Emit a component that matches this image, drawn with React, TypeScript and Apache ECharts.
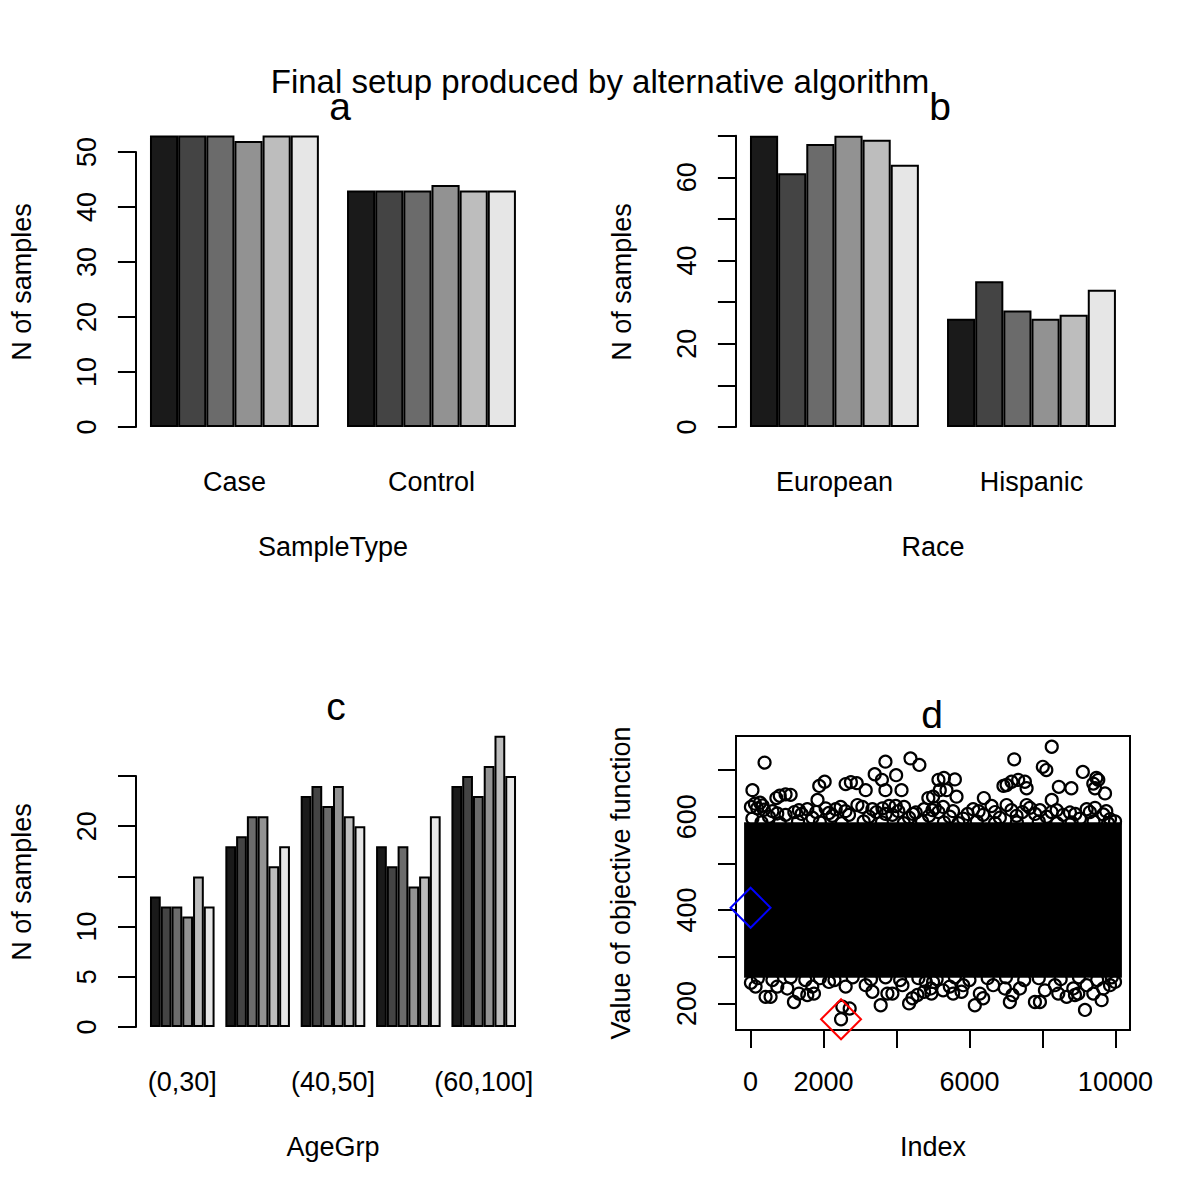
import React, { useEffect, useRef } from "react";
import * as echarts from "echarts";

const FONT = '"Liberation Sans", Arial, Helvetica, sans-serif';

// ---------- data ----------
const barColors = ["#1a1a1a", "#444444", "#6b6b6b", "#929292", "#bdbdbd", "#e6e6e6"];

// panel a
const sampleTypeCategories = ["Case", "Control"];
const sampleTypeCounts = [
  [53, 43],
  [53, 43],
  [53, 43],
  [52, 44],
  [53, 43],
  [53, 43],
];
const sampleTypeTickMax = 50;
const sampleTypeTickStep = 10;
const sampleTypeTickLabels = [0, 10, 20, 30, 40, 50];

// panel b
const raceCategories = ["European", "Hispanic"];
const raceCounts = [
  [70, 26],
  [61, 35],
  [68, 28],
  [70, 26],
  [69, 27],
  [63, 33],
];
const raceTickMax = 70;
const raceTickStep = 10;
const raceTickLabels = [0, 20, 40, 60];

// panel c
const ageCategories = ["(0,30]", "(30,40]", "(40,50]", "(50,60]", "(60,100]"];
const ageCounts = [
  [13, 18, 23, 18, 24],
  [12, 19, 24, 16, 25],
  [12, 21, 22, 18, 23],
  [11, 21, 24, 14, 26],
  [15, 16, 21, 15, 29],
  [12, 18, 20, 21, 25],
];
const ageTickMax = 25;
const ageTickStep = 5;
const ageTickLabels = [0, 5, 10, 20];

// panel d
const indexTickMin = 0;
const indexTickMax = 10000;
const indexTickStep = 2000;
const indexTickLabels = [0, 2000, 6000, 10000];
const objTickMin = 200;
const objTickMax = 700;
const objTickStep = 100;
const objTickLabels = [200, 400, 600];
const indexUsr = [-398.96, 10399.96];
const objUsr = [143, 773];

// dense core of the 10000 evaluations (centres of circles)
const coreIndexRange = [1, 10000];
const coreValueRange = [269, 574];

// visible individual evaluations above the dense core [index, value]
const upperPoints = [
  [384, 716], [52, 657], [708, 640], [800, 645], [960, 648], [1098, 647], [1835, 636],
  [1883, 666], [2031, 675], [2606, 670], [2750, 674], [2910, 672], [3156, 657], [3403, 691],
  [3697, 718], [3600, 679], [3697, 657], [3990, 689], [4138, 657], [4383, 725], [4627, 711],
  [4873, 640], [5150, 679], [5300, 683], [5600, 680], [5370, 657], [5187, 657], [5003, 643],
  [5645, 643], [6394, 640], [6932, 666], [7017, 668], [7154, 675], [7336, 679], [7519, 675],
  [7566, 661], [7226, 723], [8010, 707], [8107, 700], [8255, 750], [8255, 636], [8450, 664],
  [8793, 661], [9107, 696], [9394, 671], [9531, 679], [9440, 661], [9715, 650], [9478, 683],
  [10, 621], [183, 618], [366, 615], [732, 607], [1326, 614], [1555, 616], [2058, 618],
  [2333, 616], [2470, 621], [2928, 625], [3065, 621], [3340, 616], [3614, 618], [3796, 623],
  [3979, 623], [4208, 621], [4528, 609], [4756, 616], [4986, 614], [5049, 619], [5278, 621],
  [6101, 616], [6605, 623], [7017, 625], [7566, 625], [7656, 619], [7931, 614], [8389, 614],
  [8754, 609], [9212, 616], [9440, 619], [9669, 605], [9852, 595],
  [50, 596], [503, 600], [960, 604], [1693, 598], [2242, 602], [2699, 604], [3248, 600],
  [3888, 604], [4345, 598], [4893, 602], [5461, 600], [5827, 596], [6375, 604], [6833, 598],
  [7291, 602], [8115, 600], [8571, 604], [9029, 596], [9990, 590],
  [120, 628], [260, 630], [330, 624], [600, 612], [1200, 610], [1400, 606], [1800, 610],
  [2150, 608], [2600, 612], [3450, 610], [3700, 606], [4050, 612], [4450, 606], [5150, 610],
  [5550, 612], [5950, 606], [6250, 612], [6700, 610], [7150, 614], [7450, 610], [7800, 606],
  [8250, 610], [8900, 606], [9300, 610], [9750, 612],
  [300, 588], [800, 586], [1300, 590], [1900, 588], [2500, 586], [3100, 590], [3600, 588],
  [4200, 586], [4700, 590], [5300, 588], [5700, 586], [6200, 590], [6700, 586], [7300, 588],
  [7900, 590], [8400, 586], [8800, 588], [9400, 590], [9800, 586],
];

// visible individual evaluations below the dense core [index, value]
const lowerPoints = [
  [2480, 166], [412, 214], [549, 214], [1189, 203], [1327, 221], [1555, 218], [1738, 221],
  [2516, 193], [2717, 189], [3340, 225], [3751, 221], [3888, 221], [3567, 196], [4345, 200],
  [4437, 211], [4574, 218], [4756, 225], [4940, 232], [4958, 221], [5278, 228], [5553, 221],
  [5782, 225], [6147, 196], [6375, 211], [6284, 221], [7107, 203], [7180, 218], [7794, 203],
  [7931, 203], [8434, 221], [8663, 214], [8891, 218], [8983, 221], [9166, 186], [9394, 221],
  [9623, 207], [9852, 239], [9989, 246],
  [137, 236], [10, 244], [732, 236], [1007, 232], [1692, 236], [2149, 246], [2607, 236],
  [3156, 239], [4163, 239], [4802, 246], [5003, 246], [5461, 236], [5827, 239], [6650, 239],
  [6970, 232], [7382, 232], [8068, 228], [8342, 239], [8846, 232], [9212, 239], [9669, 232],
  [200, 254], [600, 250], [1100, 256], [1500, 250], [1900, 254], [2300, 250], [2800, 256],
  [3300, 252], [3700, 256], [4100, 250], [4600, 254], [5100, 252], [5600, 256], [6000, 250],
  [6500, 254], [7000, 256], [7500, 250], [7900, 254], [8500, 252], [9000, 256], [9500, 250],
  [9900, 256],
];

const startPoint = [1, 405];
const bestPoint = [2480, 166];

// ---------- option ----------
const axisLineStyle = { color: "#000", width: 2 };

function yValueAxis(gridIndex: number, max: number, step: number, shown: number[], offset: number, min = 0) {
  return {
    type: "value",
    gridIndex,
    min,
    max,
    interval: step,
    offset,
    axisLine: { show: true, onZero: false, lineStyle: axisLineStyle },
    axisTick: { show: true, length: 18, lineStyle: axisLineStyle },
    splitLine: { show: false },
    axisLabel: {
      show: true,
      rotate: 90,
      margin: 35.5,
      align: "center",
      verticalAlign: "bottom",
      fontSize: 27,
      fontFamily: FONT,
      color: "#000",
      formatter: (v: number) => (shown.indexOf(v) >= 0 ? String(v) : ""),
    },
  };
}

function catAxis(gridIndex: number, cats: string[], interval: number) {
  return {
    type: "category",
    gridIndex,
    data: cats,
    axisLine: { show: false, onZero: false },
    axisTick: { show: false },
    splitLine: { show: false },
    axisLabel: {
      interval,
      margin: 41.5,
      fontSize: 27,
      fontFamily: FONT,
      color: "#000",
    },
  };
}

function barSeries(axisIndex: number, counts: number[][]) {
  return counts.map((row, i) => ({
    type: "bar",
    xAxisIndex: axisIndex,
    yAxisIndex: axisIndex,
    data: row,
    barGap: "0%",
    barCategoryGap: (100 / 7).toFixed(4) + "%",
    clip: false,
    silent: true,
    itemStyle: { color: barColors[i], borderColor: "#000", borderWidth: 2 },
  }));
}

function textEl(text: string, x: number, y: number, size: number, rotation = 0) {
  return {
    type: "text",
    x,
    y,
    rotation,
    silent: true,
    style: {
      text,
      font: `${size}px ${FONT}`,
      fill: "#000",
      align: "center",
      verticalAlign: "middle",
      textAlign: "center",
      textVerticalAlign: "middle",
    },
  };
}

// layout of panel d: box (R plot region) and the tick grid derived from it
const boxL = 736, boxT = 736, boxW = 394, boxH = 294;
const dGridLeft = boxL + ((indexTickMin - indexUsr[0]) / (indexUsr[1] - indexUsr[0])) * boxW;
const dGridWidth = ((indexTickMax - indexTickMin) / (indexUsr[1] - indexUsr[0])) * boxW;
const dGridTop = boxT + ((objUsr[1] - objTickMax) / (objUsr[1] - objUsr[0])) * boxH;
const dGridHeight = ((objTickMax - objTickMin) / (objUsr[1] - objUsr[0])) * boxH;

const option: any = {
  animation: false,
  backgroundColor: "#fff",
  textStyle: { fontFamily: FONT },
  grid: [
    { left: 135.9, top: 152, width: 394.1, height: 275 },
    { left: 735.9, top: 135.7, width: 394.1, height: 291.3 },
    { left: 144.6, top: 776, width: 376.8, height: 251 },
    { left: dGridLeft, top: dGridTop, width: dGridWidth, height: dGridHeight },
    { left: boxL, top: boxT, width: boxW, height: boxH, show: true, borderColor: "#000", borderWidth: 2, backgroundColor: "rgba(0,0,0,0)" },
  ],
  xAxis: [
    catAxis(0, sampleTypeCategories, 0),
    catAxis(1, raceCategories, 0),
    catAxis(2, ageCategories, 1),
    {
      type: "value",
      gridIndex: 3,
      min: indexTickMin,
      max: indexTickMax,
      interval: indexTickStep,
      offset: boxT + boxH - (dGridTop + dGridHeight),
      axisLine: { show: true, onZero: false, lineStyle: axisLineStyle },
      axisTick: { show: true, length: 18, lineStyle: axisLineStyle },
      splitLine: { show: false },
      axisLabel: {
        margin: 38.5,
        fontSize: 27,
        fontFamily: FONT,
        color: "#000",
        formatter: (v: number) => (indexTickLabels.indexOf(v) >= 0 ? String(v) : ""),
      },
    },
    { type: "value", gridIndex: 4, min: indexUsr[0], max: indexUsr[1], show: false },
  ],
  yAxis: [
    yValueAxis(0, sampleTypeTickMax, sampleTypeTickStep, sampleTypeTickLabels, 0),
    yValueAxis(1, raceTickMax, raceTickStep, raceTickLabels, 0),
    yValueAxis(2, ageTickMax, ageTickStep, ageTickLabels, 8.6),
    yValueAxis(3, objTickMax, objTickStep, objTickLabels, dGridLeft - boxL, objTickMin),
    { type: "value", gridIndex: 4, min: objUsr[0], max: objUsr[1], show: false },
  ],
  series: [
    ...barSeries(0, sampleTypeCounts),
    ...barSeries(1, raceCounts),
    ...barSeries(2, ageCounts),
    {
      type: "scatter",
      xAxisIndex: 4,
      yAxisIndex: 4,
      data: [...upperPoints, ...lowerPoints],
      symbol: "circle",
      symbolSize: 12,
      silent: true,
      itemStyle: { color: "rgba(0,0,0,0)", borderColor: "#000", borderWidth: 2.2, opacity: 1 },
      markArea: {
        silent: true,
        itemStyle: { color: "#000", borderColor: "#000", borderWidth: 13 },
        data: [[{ coord: [coreIndexRange[0], coreValueRange[0]] }, { coord: [coreIndexRange[1], coreValueRange[1]] }]],
      },
    },
    {
      type: "scatter",
      xAxisIndex: 4,
      yAxisIndex: 4,
      data: [startPoint],
      symbol: "diamond",
      symbolSize: 40,
      silent: true,
      z: 5,
      itemStyle: { color: "rgba(0,0,0,0)", borderColor: "#0000ff", borderWidth: 2, opacity: 1 },
    },
    {
      type: "scatter",
      xAxisIndex: 4,
      yAxisIndex: 4,
      data: [bestPoint],
      symbol: "diamond",
      symbolSize: 40,
      silent: true,
      z: 5,
      itemStyle: { color: "rgba(0,0,0,0)", borderColor: "#ff0000", borderWidth: 2, opacity: 1 },
    },
  ],
  graphic: [
    textEl("Final setup produced by alternative algorithm", 600, 81.5, 33),
    textEl("a", 340, 106.4, 39),
    textEl("b", 940, 106.4, 39),
    textEl("c", 336, 706.4, 39),
    textEl("d", 932, 714.4, 39),
    textEl("N of samples", 21.5, 282, 27, Math.PI / 2),
    textEl("N of samples", 621.5, 282, 27, Math.PI / 2),
    textEl("N of samples", 21.5, 882, 27, Math.PI / 2),
    textEl("Value of objective function", 621, 883, 27, Math.PI / 2),
    textEl("SampleType", 333, 547, 27),
    textEl("Race", 933, 547, 27),
    textEl("AgeGrp", 333, 1147, 27),
    textEl("Index", 933, 1147, 27),
  ],
};

export default function App() {
  const ref = useRef<HTMLDivElement>(null);
  useEffect(() => {
    document.body.style.margin = "0";
    const chart = echarts.init(ref.current as HTMLDivElement, null, { renderer: "svg" });
    chart.setOption(option);
    return () => chart.dispose();
  }, []);
  return <div ref={ref} style={{ width: 1200, height: 1200, background: "#fff" }} />;
}
